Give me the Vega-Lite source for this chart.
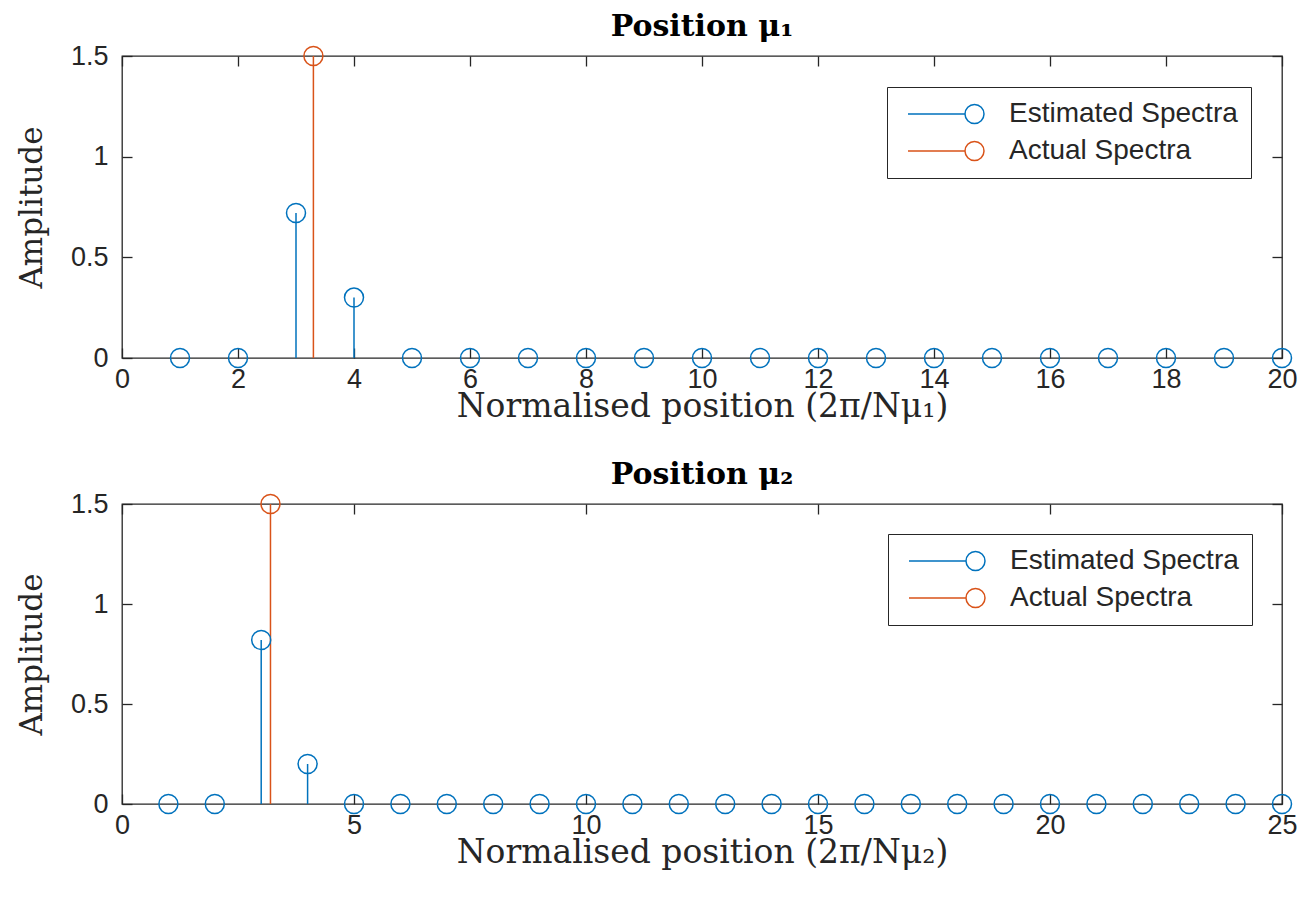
{
  "$schema": "https://vega.github.io/schema/vega-lite/v6.json",
  "background": "white",
  "padding": {"left": 15, "top": 11, "right": 5, "bottom": 10},
  "bounds": "flush",
  "spacing": 146,
  "config": {
    "view": {"stroke": "#262626", "strokeWidth": 1.3},
    "axis": {
      "grid": false,
      "domain": false,
      "labelFlush": false,
      "tickColor": "#262626",
      "tickWidth": 1.3,
      "tickSize": -10,
      "labelFont": "Liberation Sans",
      "labelFontSize": 27,
      "labelColor": "#262626",
      "titleFont": "DejaVu Serif",
      "titleFontSize": 33,
      "titleFontWeight": "normal",
      "titleColor": "#262626"
    },
    "legend": {
      "orient": "top-right", "title": null,
      "symbolType": "M-4,0L2,0M4,0A1,1,0,1,1,2,0A1,1,0,1,1,4,0",
      "symbolSize": 361, "symbolStrokeWidth": 1.5, "symbolFillColor": "transparent",
      "symbolOffset": 32, "labelOffset": 49, "labelLimit": 0,
      "labelFont": "Liberation Sans", "labelFontSize": 28, "labelColor": "#262626",
      "padding": 13, "rowPadding": 9, "strokeColor": "#262626", "fillColor": "white"
    },
    "title": {"font": "DejaVu Serif", "fontSize": 30, "fontWeight": "bold", "color": "#000000", "anchor": "middle"}
  },
  "resolve": {"scale": {"color": "independent"}, "legend": {"color": "independent"}},
  "datasets": {
    "stems": [
      {"panel": "mu1", "series": "Estimated Spectra", "x": 1, "y": 0},
      {"panel": "mu1", "series": "Estimated Spectra", "x": 2, "y": 0},
      {"panel": "mu1", "series": "Estimated Spectra", "x": 3, "y": 0.72},
      {"panel": "mu1", "series": "Estimated Spectra", "x": 4, "y": 0.30},
      {"panel": "mu1", "series": "Estimated Spectra", "x": 5, "y": 0},
      {"panel": "mu1", "series": "Estimated Spectra", "x": 6, "y": 0},
      {"panel": "mu1", "series": "Estimated Spectra", "x": 7, "y": 0},
      {"panel": "mu1", "series": "Estimated Spectra", "x": 8, "y": 0},
      {"panel": "mu1", "series": "Estimated Spectra", "x": 9, "y": 0},
      {"panel": "mu1", "series": "Estimated Spectra", "x": 10, "y": 0},
      {"panel": "mu1", "series": "Estimated Spectra", "x": 11, "y": 0},
      {"panel": "mu1", "series": "Estimated Spectra", "x": 12, "y": 0},
      {"panel": "mu1", "series": "Estimated Spectra", "x": 13, "y": 0},
      {"panel": "mu1", "series": "Estimated Spectra", "x": 14, "y": 0},
      {"panel": "mu1", "series": "Estimated Spectra", "x": 15, "y": 0},
      {"panel": "mu1", "series": "Estimated Spectra", "x": 16, "y": 0},
      {"panel": "mu1", "series": "Estimated Spectra", "x": 17, "y": 0},
      {"panel": "mu1", "series": "Estimated Spectra", "x": 18, "y": 0},
      {"panel": "mu1", "series": "Estimated Spectra", "x": 19, "y": 0},
      {"panel": "mu1", "series": "Estimated Spectra", "x": 20, "y": 0},
      {"panel": "mu1", "series": "Actual Spectra", "x": 3.3, "y": 1.5},
      {"panel": "mu2", "series": "Estimated Spectra", "x": 1, "y": 0},
      {"panel": "mu2", "series": "Estimated Spectra", "x": 2, "y": 0},
      {"panel": "mu2", "series": "Estimated Spectra", "x": 3, "y": 0.82},
      {"panel": "mu2", "series": "Estimated Spectra", "x": 4, "y": 0.20},
      {"panel": "mu2", "series": "Estimated Spectra", "x": 5, "y": 0},
      {"panel": "mu2", "series": "Estimated Spectra", "x": 6, "y": 0},
      {"panel": "mu2", "series": "Estimated Spectra", "x": 7, "y": 0},
      {"panel": "mu2", "series": "Estimated Spectra", "x": 8, "y": 0},
      {"panel": "mu2", "series": "Estimated Spectra", "x": 9, "y": 0},
      {"panel": "mu2", "series": "Estimated Spectra", "x": 10, "y": 0},
      {"panel": "mu2", "series": "Estimated Spectra", "x": 11, "y": 0},
      {"panel": "mu2", "series": "Estimated Spectra", "x": 12, "y": 0},
      {"panel": "mu2", "series": "Estimated Spectra", "x": 13, "y": 0},
      {"panel": "mu2", "series": "Estimated Spectra", "x": 14, "y": 0},
      {"panel": "mu2", "series": "Estimated Spectra", "x": 15, "y": 0},
      {"panel": "mu2", "series": "Estimated Spectra", "x": 16, "y": 0},
      {"panel": "mu2", "series": "Estimated Spectra", "x": 17, "y": 0},
      {"panel": "mu2", "series": "Estimated Spectra", "x": 18, "y": 0},
      {"panel": "mu2", "series": "Estimated Spectra", "x": 19, "y": 0},
      {"panel": "mu2", "series": "Estimated Spectra", "x": 20, "y": 0},
      {"panel": "mu2", "series": "Estimated Spectra", "x": 21, "y": 0},
      {"panel": "mu2", "series": "Estimated Spectra", "x": 22, "y": 0},
      {"panel": "mu2", "series": "Estimated Spectra", "x": 23, "y": 0},
      {"panel": "mu2", "series": "Estimated Spectra", "x": 24, "y": 0},
      {"panel": "mu2", "series": "Estimated Spectra", "x": 25, "y": 0},
      {"panel": "mu2", "series": "Actual Spectra", "x": 3.2, "y": 1.5}
    ]
  },
  "vconcat": [
    {
      "width": 1160,
      "height": 302,
      "title": {"text": "Position μ₁", "offset": 0},
      "data": {"name": "stems"},
      "transform": [{"filter": "datum.panel === 'mu1'"}],
      "resolve": {"axis": {"x": "independent", "y": "independent"}},
      "layer": [
        {
          "mark": {"type": "rule", "strokeWidth": 1.5},
          "encoding": {
            "x": {"field": "x", "type": "quantitative", "scale": {"domain": [0, 20], "nice": false, "zero": false},
                  "axis": {"values": [0, 2, 4, 6, 8, 10, 12, 14, 16, 18, 20], "labelPadding": 18, "title": "Normalised position (2π/Nμ₁)", "titlePadding": -2}},
            "y": {"field": "y", "type": "quantitative", "scale": {"domain": [0, 1.5], "nice": false},
                  "axis": {"values": [0, 0.5, 1, 1.5], "format": "~g", "labelPadding": 24, "title": "Amplitude", "titlePadding": 22, "titleFontSize": 31}},
            "y2": {"datum": 0},
            "color": {"field": "series", "type": "nominal", "scale": {"domain": ["Estimated Spectra", "Actual Spectra"], "range": ["#0072BD", "#D95319"]},
              "legend": {"offset": 31}}
          }
        },
        {
          "mark": {"type": "point", "opacity": 0},
          "encoding": {
            "x": {"field": "x", "type": "quantitative", "axis": {"orient": "top", "values": [0, 2, 4, 6, 8, 10, 12, 14, 16, 18, 20], "labels": false, "title": null}},
            "y": {"field": "y", "type": "quantitative", "axis": {"orient": "right", "values": [0, 0.5, 1, 1.5], "labels": false, "title": null}}
          }
        },
        {
          "mark": {"type": "point", "filled": false, "size": 361, "strokeWidth": 1.5, "opacity": 1},
          "encoding": {
            "x": {"field": "x", "type": "quantitative", "axis": null},
            "y": {"field": "y", "type": "quantitative", "axis": null},
            "color": {"field": "series", "type": "nominal"}
          }
        }
      ]
    },
    {
      "width": 1160,
      "height": 300,
      "title": {"text": "Position μ₂", "offset": 0},
      "data": {"name": "stems"},
      "transform": [{"filter": "datum.panel === 'mu2'"}],
      "resolve": {"axis": {"x": "independent", "y": "independent"}},
      "layer": [
        {
          "mark": {"type": "rule", "strokeWidth": 1.5},
          "encoding": {
            "x": {"field": "x", "type": "quantitative", "scale": {"domain": [0, 25], "nice": false, "zero": false},
                  "axis": {"values": [0, 5, 10, 15, 20, 25], "labelPadding": 18, "title": "Normalised position (2π/Nμ₂)", "titlePadding": -2}},
            "y": {"field": "y", "type": "quantitative", "scale": {"domain": [0, 1.5], "nice": false},
                  "axis": {"values": [0, 0.5, 1, 1.5], "format": "~g", "labelPadding": 24, "title": "Amplitude", "titlePadding": 22, "titleFontSize": 31}},
            "y2": {"datum": 0},
            "color": {"field": "series", "type": "nominal", "scale": {"domain": ["Estimated Spectra", "Actual Spectra"], "range": ["#0072BD", "#D95319"]},
              "legend": {"offset": 30}}
          }
        },
        {
          "mark": {"type": "point", "opacity": 0},
          "encoding": {
            "x": {"field": "x", "type": "quantitative", "axis": {"orient": "top", "values": [0, 5, 10, 15, 20, 25], "labels": false, "title": null}},
            "y": {"field": "y", "type": "quantitative", "axis": {"orient": "right", "values": [0, 0.5, 1, 1.5], "labels": false, "title": null}}
          }
        },
        {
          "mark": {"type": "point", "filled": false, "size": 361, "strokeWidth": 1.5, "opacity": 1},
          "encoding": {
            "x": {"field": "x", "type": "quantitative", "axis": null},
            "y": {"field": "y", "type": "quantitative", "axis": null},
            "color": {"field": "series", "type": "nominal"}
          }
        }
      ]
    }
  ]
}
